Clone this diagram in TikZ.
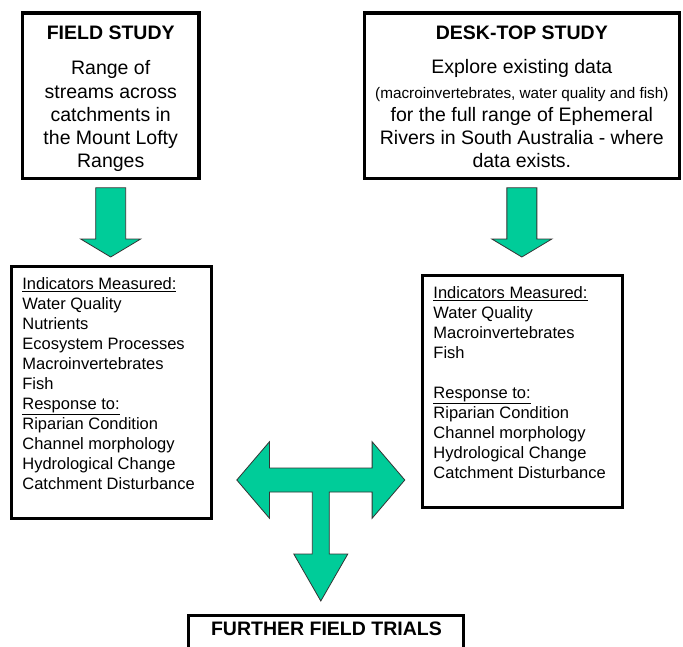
\documentclass[tikz,border=0pt]{standalone}
\usepackage{fontspec}
\setmainfont{Liberation Sans}
\usepackage{tikz}
\usetikzlibrary{positioning, calc}
\definecolor{arrGreen}{HTML}{00CC99}
\definecolor{arrEdge}{HTML}{333333}
\newcommand{\blockdown}[2]{\draw[garrow] let \p1=(#1), \p2=(#2) in (\x1-15pt,\y1) -- (\x1+15pt,\y1) -- (\x1+15pt,\y2+18pt) -- (\x1+30pt,\y2+18pt) -- (\x1,\y2) -- (\x1-30pt,\y2+18pt) -- (\x1-15pt,\y2+18pt) -- cycle;}

\begin{document}
\begin{tikzpicture}[x=1pt, y=-1pt, study/.style={draw, line width=3.5pt, outer sep=0pt, inner sep=0pt, minimum width=#1, minimum height=165.5pt}, ind/.style={draw, line width=3pt, outer sep=0pt, inner sep=0pt, minimum width=200pt}, big/.style={font=\fontsize{19.5}{23.3}\selectfont, align=center, inner sep=0pt}, lst/.style={font=\fontsize{16.5}{20}\selectfont, align=left, inner sep=0pt, anchor=north west}, garrow/.style={fill=arrGreen, draw=arrEdge, line width=0.8pt, line join=miter}]
\path[use as bounding box, fill=white] (0,0) rectangle (683,646);
\clip (0,0) rectangle (683,646);
\node[study=176.5pt] (field) at (110.7,95.5) {};
\node[study=314.8pt] (desk) at (521.85,95.5) {};
\node[big, below=12.5pt of field.north] (fieldtxt) {\textbf{FIELD STUDY}\\[12.4pt]Range of\\streams across\\catchments in\\the Mount Lofty\\Ranges};
\node[big, below=12.5pt of desk.north] (desktxt) {\textbf{DESK-TOP STUDY}\\[11.4pt]Explore existing data\\[1pt]{\fontsize{15.3}{18}\selectfont (macroinvertebrates, water quality and fish)}\\for the full range of Ephemeral\\Rivers in South Australia - where\\data exists.};
\node[ind, minimum height=252pt] (indL) at (111,392.5) {};
\node[ind, minimum width=200.3pt, minimum height=232pt] (indR) at (522.3,391.5) {};
\node[lst] (indLtxt) at ($(indL.north west)+(11.2,10.8)$) {\underline{Indicators Measured:}\\Water Quality\\Nutrients\\Ecosystem Processes\\Macroinvertebrates\\Fish\\\underline{Response to:}\\Riparian Condition\\Channel morphology\\Hydrological Change\\Catchment Disturbance};
\node[lst] (indRtxt) at ($(indR.north west)+(11.1,10.8)$) {\underline{Indicators Measured:}\\Water Quality\\Macroinvertebrates\\Fish\\[20pt]\underline{Response to:}\\Riparian Condition\\Channel morphology\\Hydrological Change\\Catchment Disturbance};
\node[draw, line width=3pt, outer sep=0pt, minimum width=275.3pt, minimum height=60pt] (further) at (325.85,645) {};
\node[font=\fontsize{19.5}{23.3}\selectfont\bfseries, anchor=base, inner sep=0pt] (furthertxt) at ($(further.north)+(0.6,20)$) {FURTHER FIELD TRIALS};
\coordinate (a1top) at ($(field.south)+(0,9.5)$);
\coordinate (a1tip) at ($(indL.north)+(0,-9.5)$);
\coordinate (a2top) at ($(desk.south)+(0,9.5)$);
\coordinate (a2tip) at ($(indR.north)+(0,-18.5)$);
\blockdown{a1top}{a1tip}
\blockdown{a2top}{a2tip}
\coordinate (hub) at (320.8,480);
\draw[garrow, shift={(hub)}] (-84,0) -- (-51.3,-38.3) -- (-51.3,-12) -- (51.3,-12) -- (51.3,-38.3) -- (84,0) -- (51.3,38.3) -- (51.3,12) -- (8.5,12) -- (8.5,74) -- (27,74) -- (0,121) -- (-27,74) -- (-8.5,74) -- (-8.5,12) -- (-51.3,12) -- (-51.3,38.3) -- cycle;
\end{tikzpicture}
\end{document}
